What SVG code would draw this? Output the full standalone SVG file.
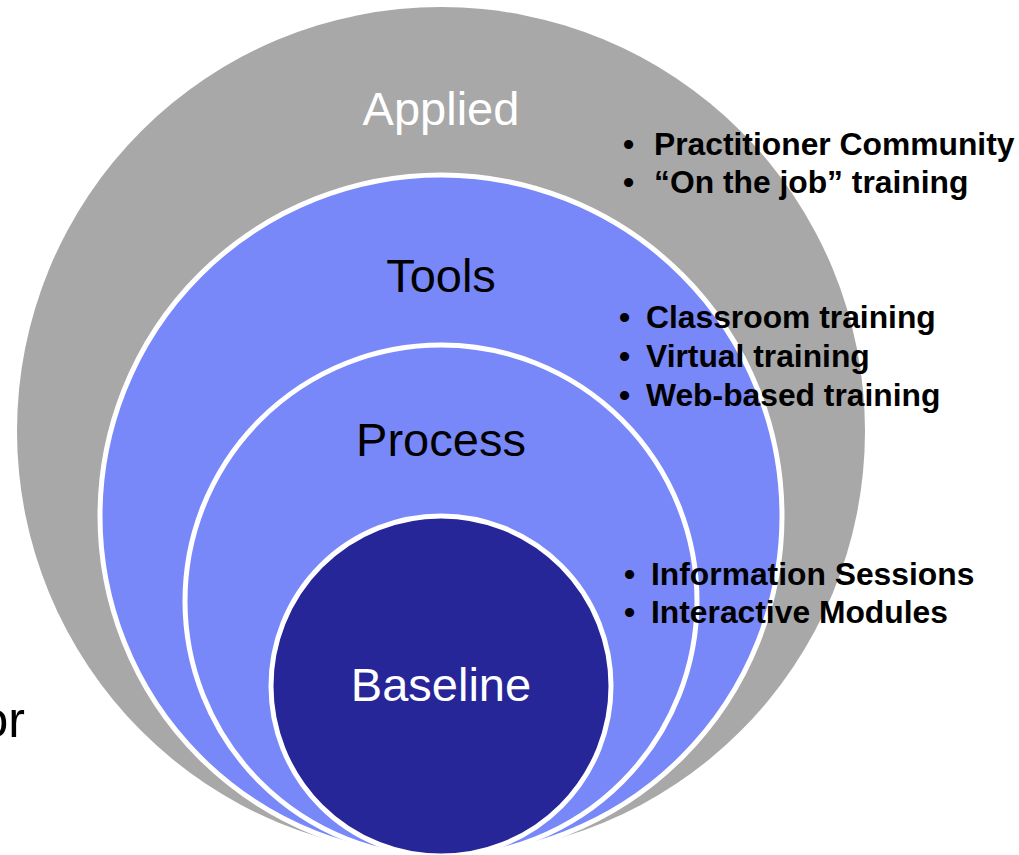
<svg xmlns="http://www.w3.org/2000/svg" width="1019" height="855" viewBox="0 0 1019 855">
<style>
.ring{stroke:#ffffff;stroke-width:5}
.lbl{font-family:"Liberation Sans",Arial,sans-serif;font-size:47px;text-anchor:middle}
.bul{font-family:"Liberation Sans",Arial,sans-serif;font-size:31.8px;font-weight:bold;fill:#000}
</style>
<rect width="1019" height="855" fill="#ffffff"/>
<g id="applied">
<circle cx="441" cy="431" r="424" fill="#a8a8a8"/>
<text class="lbl" x="441" y="125" fill="#ffffff">Applied</text>
</g>
<g id="tools">
<circle class="ring" cx="441" cy="516" r="341" fill="#7888f9"/>
<text class="lbl" x="441" y="292" fill="#000000">Tools</text>
</g>
<g id="process">
<circle class="ring" cx="441" cy="601" r="256" fill="#7888f9"/>
<text class="lbl" x="441" y="456" fill="#000000">Process</text>
</g>
<g id="baseline">
<circle class="ring" cx="441" cy="686" r="170" fill="#262698"/>
<text class="lbl" x="441" y="701" fill="#ffffff">Baseline</text>
</g>
<g id="applied-items">
<text class="bul" x="623" y="155">•</text><text class="bul" x="654" y="155">Practitioner Community</text>
<text class="bul" x="623" y="193">•</text><text class="bul" x="654" y="193">“On the job” training</text>
</g>
<g id="tools-items">
<text class="bul" x="619" y="328">•</text><text class="bul" x="646" y="328">Classroom training</text>
<text class="bul" x="619" y="367">•</text><text class="bul" x="646" y="367">Virtual training</text>
<text class="bul" x="619" y="406">•</text><text class="bul" x="646" y="406">Web-based training</text>
</g>
<g id="process-items">
<text class="bul" x="624" y="585">•</text><text class="bul" x="651" y="585">Information Sessions</text>
<text class="bul" x="624" y="623">•</text><text class="bul" x="651" y="623">Interactive Modules</text>
</g>
<g id="connectors"></g>
<text x="25" y="737" text-anchor="end" font-family="Liberation Sans, Arial, sans-serif" font-size="50" fill="#000">or</text>
</svg>
